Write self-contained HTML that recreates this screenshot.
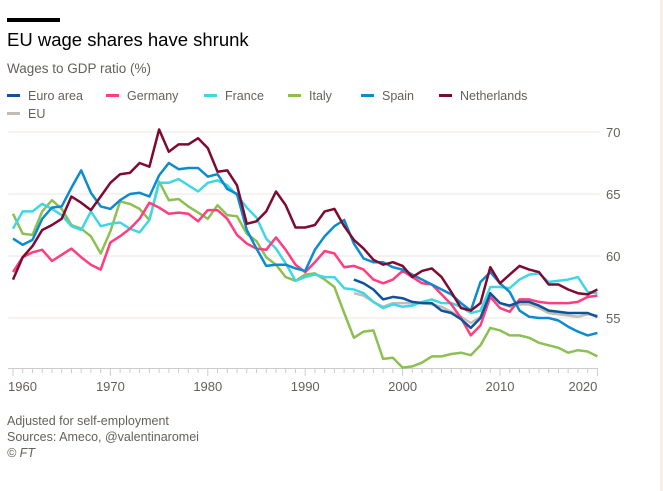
<!DOCTYPE html>
<html><head><meta charset="utf-8"><style>
body{margin:0;width:663px;height:491px;background:#fff;overflow:hidden;font-family:"Liberation Sans",sans-serif;position:relative}
.t{position:absolute;white-space:nowrap}
.leg{position:absolute;font-size:12.5px;color:#66605c;white-space:nowrap}
.leg i{display:inline-block;width:13px;height:3px;vertical-align:middle;margin-right:8px;position:relative;top:-1px}
</style></head><body>
<div style="position:absolute;right:0;top:0;width:3px;height:491px;background:#fdeee2"></div>
<div style="position:absolute;left:7px;top:18px;width:53px;height:4px;background:#000"></div>
<div class="t" style="left:7px;top:29px;font-size:18.5px;color:#000">EU wage shares have shrunk</div>
<div class="t" style="left:7px;top:61px;font-size:13.5px;color:#66605c">Wages to GDP ratio (%)</div>
<div class="leg" style="left:7px;top:89px"><i style="background:#0f5499"></i>Euro area</div>
<div class="leg" style="left:106px;top:89px"><i style="background:#ff3d7f"></i>Germany</div>
<div class="leg" style="left:204px;top:89px"><i style="background:#3fd6e6"></i>France</div>
<div class="leg" style="left:288px;top:89px"><i style="background:#8cc152"></i>Italy</div>
<div class="leg" style="left:361px;top:89px"><i style="background:#0b8bd0"></i>Spain</div>
<div class="leg" style="left:439px;top:89px"><i style="background:#7e0a32"></i>Netherlands</div>
<div class="leg" style="left:7px;top:107px"><i style="background:#c2bcb8"></i>EU</div>
<svg id="chart" width="663" height="491" style="position:absolute;left:0;top:0"></svg>
<div class="t" style="left:7px;top:414px;font-size:12.5px;color:#66605c">Adjusted for self-employment</div>
<div class="t" style="left:7px;top:430px;font-size:12.5px;color:#66605c">Sources: Ameco, @valentinaromei</div>
<div class="t" style="left:7px;top:446px;font-size:12.5px;color:#66605c;font-style:italic">© FT</div>
<script>
const startYear=1960;
const yTicks=[55,60,65,70];
const xTicks=[1960,1970,1980,1990,2000,2010,2020];
const netherlands=[58.1,59.9,60.8,62.1,62.5,63,64.8,64.3,63.7,64.8,65.9,66.6,66.7,67.5,67.2,70.2,68.4,69,69,69.5,68.7,66.8,66.9,65.7,62.6,62.8,63.6,65.2,64.1,62.3,62.3,62.5,63.6,63.8,62.4,61.3,60.6,59.7,59.3,59.5,59.2,58.3,58.8,59,58.3,57.1,55.8,55.6,56.2,59.1,57.8,58.5,59.2,58.9,58.7,57.7,57.7,57.3,57,56.9,57.3];
const germany=[58.7,59.9,60.3,60.5,59.6,60.1,60.6,59.9,59.3,58.9,61.1,61.6,62.2,63,64.3,63.9,63.4,63.5,63.4,62.8,63.7,63.7,63,61.7,61,60.6,60.5,61.5,60.5,59.3,58.7,59.5,60.4,60.2,59.1,59.2,58.9,58.1,57.8,58.1,58.8,58.3,57.8,57.7,56.9,56.1,55,53.6,54.4,56.7,55.8,55.5,56.5,56.5,56.3,56.2,56.2,56.2,56.3,56.7,56.8];
const france=[62.2,63.6,63.6,64.2,63.8,63.3,62.4,62.1,63.6,62.4,62.6,62.7,62.2,61.9,62.9,65.9,65.9,66.2,65.7,65.2,65.9,66.1,65.7,64.9,63.9,63.1,61.4,60.6,59.4,58,58.3,58.5,58.3,58.3,57.4,57.3,57,56.3,55.8,56.1,55.9,56,56.3,56.5,56.2,56.2,55.9,55.4,55.6,57.5,57.5,57.4,58.1,58.5,58.6,57.9,58,58.1,58.3,57.1,57];
const italy=[63.4,61.8,61.7,63.6,64.5,63.8,62.5,62.2,61.6,60.2,62,64.4,64.2,63.8,62.9,66,64.5,64.6,64,63.5,63,64.1,63.3,63.2,61.8,61.2,59.9,59.3,58.3,58,58.5,58.6,58.1,57.5,55.4,53.4,53.9,54,51.7,51.8,51,51.1,51.4,51.9,51.9,52.1,52.2,52,52.8,54.2,54,53.6,53.6,53.4,53,52.8,52.6,52.2,52.4,52.3,51.9];
const spain=[61.4,60.9,61.3,63,63.9,64,65.5,66.9,65.1,64,63.8,64.5,65,65.1,64.8,66.5,67.5,67,67.1,67.1,66.4,66.6,65.4,65,62.1,60.6,59.2,59.3,59.3,59,58.8,60.5,61.6,62.4,62.9,61,59.8,59.5,59.5,59.1,58.9,58.5,58.1,57.7,57.3,56.9,56.2,55.6,57.9,58.7,57.8,57.1,55.6,55.1,55,55,54.8,54.3,53.9,53.6,53.8];
const euroArea=[null,null,null,null,null,null,null,null,null,null,null,null,null,null,null,null,null,null,null,null,null,null,null,null,null,null,null,null,null,null,null,null,null,null,null,58.1,57.8,57.3,56.5,56.7,56.6,56.3,56.2,56.2,55.6,55.4,54.9,54.2,55,57,56.2,56,56.3,56.3,56,55.6,55.5,55.4,55.4,55.4,55.1];
const eu=[null,null,null,null,null,null,null,null,null,null,null,null,null,null,null,null,null,null,null,null,null,null,null,null,null,null,null,null,null,null,null,null,null,null,null,57,56.8,56.3,55.9,56.2,56.2,56.2,56.2,56.1,55.9,55.5,55.1,54.6,55.1,56.9,56.2,55.9,56.1,56.1,55.8,55.4,55.3,55.2,55.1,55.3,55.2];

const NS='http://www.w3.org/2000/svg';
const svg=document.getElementById('chart');
const x=yr=>13+(yr-1960)*9.74;
const y=v=>132+(70-v)*12.4;
function mk(tag,attrs){const e=document.createElementNS(NS,tag);for(const k in attrs)e.setAttribute(k,attrs[k]);svg.appendChild(e);return e;}
yTicks.forEach(v=>{
  const g=mk('line',{x1:8,x2:600,y1:y(v),y2:y(v),stroke:'#ece6e2','stroke-width':1});
  
  
  const t=mk('text',{x:606,y:y(v)+5,'font-size':13,fill:'#66605c','font-family':'Liberation Sans, sans-serif'});
  t.textContent=v;
  
  
});
const ax=mk('line',{x1:8,x2:598,y1:368.5,y2:368.5,stroke:'#cccccc','stroke-width':1});


for(let yr=1960;yr<=2020;yr++){
  const major=yr%10===0;
  const tk=mk('line',{x1:x(yr),x2:x(yr),y1:369,y2:major?376:373,stroke:'#cccccc','stroke-width':1});
  
  
}
xTicks.forEach((yr,i)=>{
  const anchor=i===0?'start':(i===xTicks.length-1?'end':'middle');
  const t=mk('text',{x:x(yr)+(i===0?-5:0),y:391,'font-size':13,fill:'#66605c','text-anchor':anchor,'font-family':'Liberation Sans, sans-serif'});
  t.textContent=yr;
  
  
});
const series=[[eu,'#c2bcb8','eu'],[italy,'#8cc152','italy'],[france,'#3fd6e6','france'],[germany,'#ff3d7f','germany'],[spain,'#0b8bd0','spain'],[euroArea,'#0f5499','euro-area'],[netherlands,'#7e0a32','netherlands']];
series.forEach(([d,c,n])=>{
  let p='';
  d.forEach((v,i)=>{if(v==null)return;p+=(p?'L':'M')+x(startYear+i).toFixed(1)+','+y(v).toFixed(1);});
  const l=mk('path',{d:p,fill:'none',stroke:c,'stroke-width':2.5,'stroke-linejoin':'round'});
  
  
});
</script>
</body></html>
